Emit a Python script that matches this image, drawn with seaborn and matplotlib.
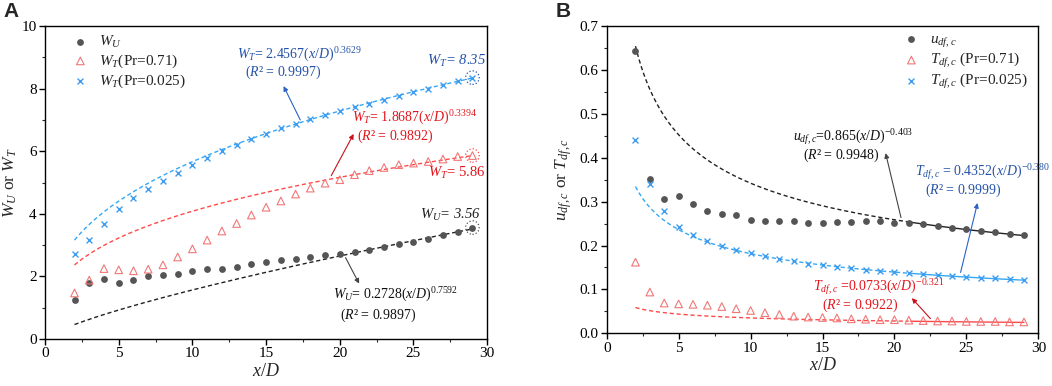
import numpy as np
import pandas as pd
import matplotlib
matplotlib.use("Agg")
import matplotlib.pyplot as plt
import seaborn as sns

# x/D positions (same for every series)
x_d = [2, 3, 4, 5, 6, 7, 8, 9, 10, 11, 12, 13, 14, 15, 16, 17, 18, 19, 20,
       21, 22, 23, 24, 25, 26, 27, 28, 29]

# panel A: half widths
w_u = [1.24, 1.80, 1.93, 1.80, 1.88, 2.00, 2.05, 2.09, 2.18, 2.23, 2.25, 2.30, 2.40, 2.47,
       2.53, 2.57, 2.62, 2.68, 2.73, 2.77, 2.85, 2.93, 3.02, 3.10, 3.20, 3.32, 3.43, 3.56]
w_t_071 = [1.47, 1.88, 2.25, 2.21, 2.18, 2.23, 2.37, 2.62, 2.88, 3.16, 3.45, 3.69, 3.96, 4.21,
           4.41, 4.63, 4.82, 4.98, 5.09, 5.25, 5.38, 5.48, 5.57, 5.62, 5.67, 5.75, 5.83, 5.86]
w_t_0025 = [2.71, 3.16, 3.68, 4.14, 4.49, 4.78, 5.05, 5.31, 5.56, 5.79, 6.00, 6.20, 6.39, 6.56,
            6.73, 6.88, 7.02, 7.15, 7.29, 7.41, 7.52, 7.65, 7.77, 7.88, 7.99, 8.11, 8.24, 8.35]

# panel B: centreline decay
u_c = [0.643, 0.352, 0.307, 0.313, 0.295, 0.279, 0.272, 0.269, 0.257, 0.255, 0.256, 0.256,
       0.252, 0.252, 0.253, 0.254, 0.255, 0.255, 0.252, 0.252, 0.249, 0.245, 0.241, 0.237,
       0.233, 0.230, 0.227, 0.223]
t_c_071 = [0.162, 0.094, 0.069, 0.067, 0.066, 0.064, 0.061, 0.056, 0.052, 0.047, 0.043, 0.039,
           0.037, 0.036, 0.035, 0.033, 0.032, 0.031, 0.031, 0.030, 0.029, 0.028, 0.028, 0.027,
           0.027, 0.027, 0.026, 0.026]
t_c_0025 = [0.441, 0.341, 0.279, 0.243, 0.223, 0.210, 0.199, 0.189, 0.182, 0.175, 0.169, 0.164,
            0.159, 0.155, 0.152, 0.148, 0.145, 0.142, 0.140, 0.138, 0.136, 0.133, 0.131, 0.129,
            0.127, 0.125, 0.123, 0.121]

# power-law fits printed on the chart: y = a * (x/D)^b
fit_a_A = [0.2728, 1.8687, 2.4567]
fit_b_A = [0.7592, 0.3394, 0.3629]
fit_a_B = [0.865, 0.0733, 0.4352]
fit_b_B = [-0.403, -0.321, -0.380]

GREY = "#555555"
RED_M = "#f07878"
RED_L = "#ff4a4a"
RED_T = "#e3141c"
BLUE_M = "#3d9cf0"
BLUE_L = "#35a8f5"
BLUE_T = "#2452a8"
FS = 10

sns.set_theme(style="ticks")
plt.rcParams["font.family"] = ["Liberation Serif", "DejaVu Serif"]
plt.rcParams["mathtext.fontset"] = "custom"
plt.rcParams["mathtext.rm"] = "Liberation Serif"
plt.rcParams["mathtext.it"] = "Liberation Serif:italic"
plt.rcParams["mathtext.bf"] = "Liberation Serif:bold"

fig = plt.figure(figsize=(10.52, 3.86), dpi=100)
axA = fig.add_axes([0.0428, 0.1218, 0.4203, 0.8108])
axB = fig.add_axes([0.5767, 0.1365, 0.4103, 0.7961])

dfA = pd.DataFrame({"x": x_d, "wu": w_u, "wt1": w_t_071, "wt2": w_t_0025})
dfB = pd.DataFrame({"x": x_d, "u": u_c, "t1": t_c_071, "t2": t_c_0025})

xs = np.linspace(2, 29, 200)

# ---------- panel A ----------
for a, b, c in zip(fit_a_A, fit_b_A, ["#222222", RED_L, BLUE_L]):
    sns.lineplot(x=xs, y=a * xs ** b, ax=axA, color=c, lw=1.0, linestyle=(0, (3, 2)))

sns.scatterplot(data=dfA, x="x", y="wu", ax=axA, marker="o", s=24, color=GREY,
                edgecolor=GREY, linewidth=0, label=r"$W_U$", zorder=3)
sns.scatterplot(data=dfA, x="x", y="wt1", ax=axA, marker="^", s=30, facecolor="none",
                edgecolor=RED_M, linewidth=0.8, label=r"$W_T$(Pr=0.71)", zorder=3)
sns.scatterplot(data=dfA, x="x", y="wt2", ax=axA, marker="x", s=18, color=BLUE_M,
                linewidth=1.0, label=r"$W_T$(Pr=0.025)", zorder=3)

# dotted rings on end points
last = len(x_d) - 1
for vals, c in [(w_u, GREY), (w_t_071, RED_L), (w_t_0025, BLUE_T)]:
    axA.scatter([x_d[last]], [vals[last]], s=95, facecolors="none", edgecolors=c,
                linewidths=0.9, linestyle=":", zorder=4)

axA.text(13.0, 9.09, r"$W_T$= 2.4567($x/D$)$^{0.3629}$", color=BLUE_T, fontsize=FS, va="center")
axA.text(13.6, 8.51, r"($R$² = 0.9997)", color=BLUE_T, fontsize=FS, va="center")
axA.annotate("", xy=(16.1, 8.16), xytext=(17.4, 6.92),
             arrowprops=dict(arrowstyle="-|>", color="#2a62c8", lw=0.8, mutation_scale=7))
axA.text(29.9, 8.88, r"$W_T$= 8.35", color=BLUE_T, fontsize=FS + 0.5, va="center", ha="right",
         style="italic")

axA.text(20.8, 7.06, r"$W_T$= 1.8687($x/D$)$^{0.3394}$", color=RED_T, fontsize=FS, va="center")
axA.text(21.2, 6.47, r"($R$² = 0.9892)", color=RED_T, fontsize=FS, va="center")
axA.annotate("", xy=(21.03, 6.63), xytext=(19.33, 5.14),
             arrowprops=dict(arrowstyle="-|>", color="#c8101a", lw=0.8, mutation_scale=7))
axA.text(29.9, 5.30, r"$W_T$= 5.86", color=RED_T, fontsize=FS + 0.5, va="center", ha="right")

axA.text(29.6, 3.96, r"$W_U$= 3.56", color="#222222", fontsize=FS + 0.5, va="center", ha="right",
         style="italic")
axA.text(19.56, 1.40, r"$W_U$= 0.2728($x/D$)$^{0.7592}$", color="#111111", fontsize=FS, va="center")
axA.text(20.0, 0.76, r"($R$² = 0.9897)", color="#111111", fontsize=FS, va="center")
axA.annotate("", xy=(21.4, 1.69), xytext=(20.3, 2.68),
             arrowprops=dict(arrowstyle="-|>", color="#444444", lw=0.8, mutation_scale=7))

axA.set_xlim(0, 30)
axA.set_ylim(0, 10)
axA.set_xticks([0, 5, 10, 15, 20, 25, 30])
axA.set_xticks([2.5, 7.5, 12.5, 17.5, 22.5, 27.5], minor=True)
axA.set_yticks([0, 2, 4, 6, 8, 10])
axA.set_yticks([1, 3, 5, 7, 9], minor=True)
axA.set_xlabel(r"$x/D$", fontsize=13, labelpad=2)
axA.set_ylabel(r"$W_U$ or $W_T$", fontsize=12.5, labelpad=2)
axA.legend(loc="upper left", bbox_to_anchor=(0.035, 1.01), frameon=False, fontsize=11,
           handletextpad=0.6, borderaxespad=0.3, labelspacing=0.2, handlelength=1.2)

# ---------- panel B ----------
split = 21
fit_cols = ["#222222", RED_L, BLUE_L]
for a, b, c in zip(fit_a_B, fit_b_B, fit_cols):
    xd = xs[xs <= split]
    xsld = xs[xs >= split]
    sns.lineplot(x=xd, y=a * xd ** b, ax=axB, color=c, lw=1.0, linestyle=(0, (3, 2)))
    sns.lineplot(x=xsld, y=a * xsld ** b, ax=axB, color=c, lw=1.0)

sns.scatterplot(data=dfB, x="x", y="u", ax=axB, marker="o", s=24, color=GREY,
                edgecolor=GREY, linewidth=0, label=r"$u_{df,c}$", zorder=3)
sns.scatterplot(data=dfB, x="x", y="t1", ax=axB, marker="^", s=30, facecolor="none",
                edgecolor=RED_M, linewidth=0.8, label=r"$T_{df,c}$ (Pr=0.71)", zorder=3)
sns.scatterplot(data=dfB, x="x", y="t2", ax=axB, marker="x", s=18, color=BLUE_M,
                linewidth=1.0, label=r"$T_{df,c}$ (Pr=0.025)", zorder=3)

axB.text(12.97, 0.4468, r"$u_{df,c}$=0.865($x/D$)$^{-0.403}$", color="#111111", fontsize=FS, va="center")
axB.text(13.66, 0.405, r"($R$² = 0.9948)", color="#111111", fontsize=FS, va="center")
axB.annotate("", xy=(19.34, 0.4166), xytext=(20.5, 0.2575),
             arrowprops=dict(arrowstyle="-|>", color="#444444", lw=0.8, mutation_scale=7))

axB.text(21.43, 0.367, r"$T_{df,c}$ = 0.4352($x/D$)$^{-0.380}$", color=BLUE_T, fontsize=FS, va="center")
axB.text(22.12, 0.326, r"($R$² = 0.9999)", color=BLUE_T, fontsize=FS, va="center")
axB.annotate("", xy=(25.82, 0.303), xytext=(24.55, 0.1325),
             arrowprops=dict(arrowstyle="-|>", color="#2a62c8", lw=0.8, mutation_scale=7))

axB.text(14.36, 0.106, r"$T_{df,c}$ =0.0733($x/D$)$^{-0.321}$", color=RED_T, fontsize=FS, va="center")
axB.text(14.94, 0.064, r"($R$² = 0.9922)", color=RED_T, fontsize=FS, va="center")
axB.annotate("", xy=(21.08, 0.0848), xytext=(22.63, 0.0287),
             arrowprops=dict(arrowstyle="-|>", color="#c8101a", lw=0.8, mutation_scale=7))

axB.set_xlim(0, 30)
axB.set_ylim(0, 0.7)
axB.set_xticks([0, 5, 10, 15, 20, 25, 30])
axB.set_xticks([2.5, 7.5, 12.5, 17.5, 22.5, 27.5], minor=True)
axB.set_yticks([0.0, 0.1, 0.2, 0.3, 0.4, 0.5, 0.6, 0.7])
axB.set_yticks([0.05, 0.15, 0.25, 0.35, 0.45, 0.55, 0.65], minor=True)
axB.set_yticklabels(["0.0", "0.1", "0.2", "0.3", "0.4", "0.5", "0.6", "0.7"])
axB.set_xlabel(r"$x/D$", fontsize=13, labelpad=2)
axB.set_ylabel(r"$u_{df,c}$ or $T_{df,c}$", fontsize=12.5, labelpad=4)
axB.legend(loc="upper right", bbox_to_anchor=(1.0, 1.015), frameon=False, fontsize=11,
           handletextpad=0.6, borderaxespad=0.3, labelspacing=0.15, handlelength=1.2)

for ax in (axA, axB):
    for sp in ax.spines.values():
        sp.set_linewidth(1.0)
        sp.set_color("black")
    ax.tick_params(which="major", direction="out", length=4, width=1, labelsize=11,
                   colors="black", pad=2)
    ax.tick_params(which="minor", direction="out", length=2.5, width=0.8)
    ax.tick_params(top=False, right=False, which="both")

fig.text(0.003, 0.955, "A", fontsize=15, fontweight="bold", family="Liberation Sans")
fig.text(0.528, 0.955, "B", fontsize=15, fontweight="bold", family="Liberation Sans")

fig.savefig("out.png", dpi=100)
